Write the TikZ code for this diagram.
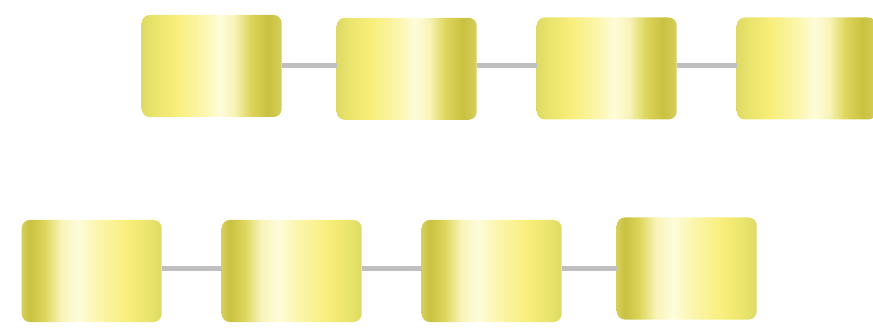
\documentclass[tikz,border=0pt]{standalone}
\usetikzlibrary{calc}
\definecolor{gA}{HTML}{DEDA66}
\definecolor{gB}{HTML}{E8E36A}
\definecolor{gC}{HTML}{F8EE7A}
\definecolor{gD}{HTML}{FBF5A8}
\definecolor{gE}{HTML}{FEFCDA}
\definecolor{gF}{HTML}{F8F3B8}
\definecolor{gG}{HTML}{DDD55A}
\definecolor{gH}{HTML}{C9C140}
\definecolor{gI}{HTML}{D6CF5A}
\definecolor{linegray}{HTML}{BFBFBF}
\pgfdeclarehorizontalshading{goldtop}{100bp}{color(0bp)=(gA); color(25bp)=(gA); color(29bp)=(gB); color(37bp)=(gC); color(46bp)=(gD); color(53bp)=(gE); color(58bp)=(gF); color(64bp)=(gG); color(70bp)=(gH); color(75bp)=(gI); color(100bp)=(gI)}
\pgfdeclarehorizontalshading{goldbot}{100bp}{color(0bp)=(gI); color(25bp)=(gI); color(28bp)=(gH); color(33bp)=(gG); color(39bp)=(gF); color(45bp)=(gE); color(53bp)=(gD); color(63bp)=(gC); color(71bp)=(gB); color(75bp)=(gA); color(100bp)=(gA)}
\tikzset{
  gbox/.style={rectangle, rounded corners=8pt, minimum width=140pt, minimum height=102pt, inner sep=0pt},
  topbox/.style={gbox, shading=goldtop},
  botbox/.style={gbox, shading=goldbot},
  link/.style={draw=linegray, line width=5pt}
}
\begin{document}
\begin{tikzpicture}[x=1pt,y=-1pt]
\useasboundingbox (0,0) rectangle (873,331);
\node[topbox] (b1) at (211.7,66) {};
\node[topbox] (b2) at (406.7,68.8) {};
\node[topbox] (b3) at (606.7,68.5) {};
\node[topbox] (b4) at (806.7,68.5) {};
\node[botbox] (b5) at (91.7,271) {};
\node[botbox] (b6) at (291.7,271) {};
\node[botbox] (b7) at (491.7,271) {};
\node[botbox] (b8) at (686.7,268.5) {};
\path[link] (b1.east) -- (b1.east -| b2.west);
\path[link] (b2.east |- b1.east) -- (b3.west |- b1.east);
\path[link] (b3.east |- b1.east) -- (b4.west |- b1.east);
\path[link] (b5.east |- b8.west) -- (b6.west |- b8.west);
\path[link] (b6.east |- b8.west) -- (b7.west |- b8.west);
\path[link] (b7.east |- b8.west) -- (b8.west);
\end{tikzpicture}
\end{document}
